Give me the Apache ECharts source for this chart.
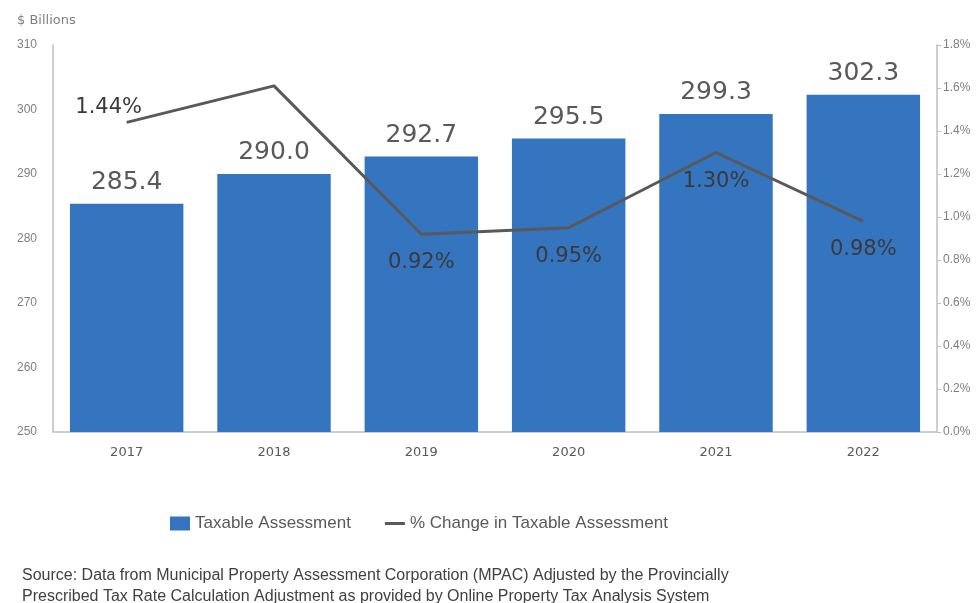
<!DOCTYPE html>
<html>
<head>
<meta charset="utf-8">
<script src="https://cdn.jsdelivr.net/npm/echarts@6/dist/echarts.min.js"></script>
<style>
  html, body { margin: 0; padding: 0; background: #fff; }
  #chart { width: 977px; height: 603px; }
</style>
</head>
<body>
<div id="chart"></div>
<script>
// years on the x axis
const years = ["2017", "2018", "2019", "2020", "2021", "2022"];
// taxable assessment, $ billions
const assessment = [285.4, 290.0, 292.7, 295.5, 299.3, 302.3];
// % change in taxable assessment (2018 has no label in the source)
const pctChange = [1.44, 1.61, 0.92, 0.95, 1.30, 0.98];
const pctLabelShown = [true, false, true, true, true, true];

const sans = "Liberation Sans";
const wide = "DejaVu Sans";
const chart = echarts.init(document.getElementById("chart"));

chart.setOption({
  backgroundColor: "#fff",
  animation: false,
  textStyle: { fontFamily: sans },
  title: [
    {
      text: "$ Billions",
      left: 12,
      top: 9,
      textStyle: { fontSize: 13, fontWeight: "normal", color: "#7f7f7f", fontFamily: wide },
    },
    {
      text: "Source: Data from Municipal Property Assessment Corporation (MPAC) Adjusted by the Provincially\nPrescribed Tax Rate Calculation Adjustment as provided by Online Property Tax Analysis System",
      left: 17,
      top: 560,
      textStyle: { fontSize: 16, fontWeight: "normal", color: "#404040", lineHeight: 21, fontFamily: sans },
    },
  ],
  legend: {
    left: 165,
    top: 510,
    itemGap: 34,
    itemWidth: 20,
    itemHeight: 14,
    textStyle: { fontSize: 17, color: "#595959", fontFamily: sans },
    data: [
      { name: "Taxable Assessment", icon: "rect" },
      { name: "% Change in Taxable Assessment", icon: "path://M0,0M20,14M0,5.5L20,5.5L20,8.5L0,8.5Z" },
    ],
  },
  grid: { left: 53, right: 40, top: 45, bottom: 171 },
  xAxis: {
    type: "category",
    data: years,
    axisLine: { lineStyle: { color: "#bfbfbf", width: 1.5 } },
    axisTick: { show: false },
    axisLabel: { fontSize: 13, color: "#595959", margin: 14, fontFamily: wide },
  },
  yAxis: [
    {
      type: "value",
      min: 250,
      max: 310,
      interval: 10,
      splitLine: { show: false },
      axisLine: { show: true, lineStyle: { color: "#bfbfbf", width: 1.5 } },
      axisTick: { show: false },
      axisLabel: { fontSize: 12, color: "#7f7f7f", margin: 16 },
    },
    {
      type: "value",
      min: 0,
      max: 1.8,
      interval: 0.2,
      splitLine: { show: false },
      axisLine: { show: true, lineStyle: { color: "#bfbfbf", width: 1.5 } },
      axisTick: { show: true, length: 4, lineStyle: { color: "#bfbfbf" } },
      axisLabel: {
        fontSize: 12,
        color: "#7f7f7f",
        margin: 6,
        formatter: (v) => v.toFixed(1) + "%",
      },
    },
  ],
  series: [
    {
      name: "Taxable Assessment",
      type: "bar",
      data: assessment,
      barWidth: "77%",
      itemStyle: { color: "#3574be" },
      label: {
        show: true,
        position: "top",
        distance: 9,
        fontSize: 25,
        fontFamily: wide,
        color: "#595959",
        formatter: (p) => p.value.toFixed(1),
      },
    },
    {
      name: "% Change in Taxable Assessment",
      type: "line",
      yAxisIndex: 1,
      data: pctChange.map((v, i) => ({
        value: v,
        label: i === 0
          ? { show: true, position: "top", distance: 6, offset: [-18, 2] }
          : { show: pctLabelShown[i] },
      })),
      symbol: "circle",
      symbolSize: 0.1,
      showSymbol: true,
      lineStyle: { color: "#595959", width: 3 },
      itemStyle: { color: "#595959" },
      label: {
        show: true,
        position: "bottom",
        distance: 18,
        fontSize: 21,
        fontFamily: wide,
        color: "#3a3a3a",
        formatter: (p) => p.value.toFixed(2) + "%",
      },
    },
  ],
});
</script>
</body>
</html>
